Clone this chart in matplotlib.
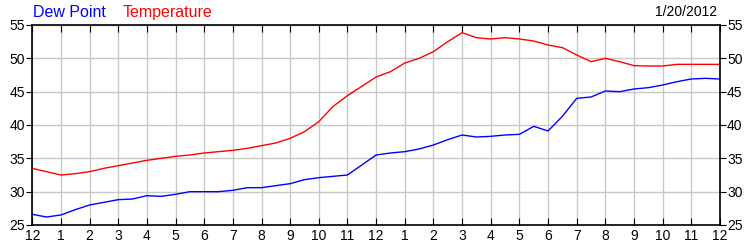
import numpy as np
import matplotlib.pyplot as plt

# sati od ponoci, korak pola sata
hours = np.arange(0, 24.5, 0.5)

temperature = [33.5, 33.0, 32.5, 32.7, 33.0, 33.5, 33.9, 34.3, 34.7, 35.0,
               35.3, 35.5, 35.8, 36.0, 36.2, 36.5, 36.9, 37.3, 38.0, 39.0,
               40.5, 42.8, 44.4, 45.8, 47.2, 48.0, 49.3, 50.0, 51.0, 52.5,
               53.85, 53.1, 52.9, 53.1, 52.9, 52.6, 52.0, 51.6, 50.5, 49.5,
               50.0, 49.5, 48.9, 48.85, 48.85, 49.1, 49.1, 49.1, 49.1]

dew_point = [26.6, 26.2, 26.5, 27.3, 28.0, 28.4, 28.8, 28.9, 29.4, 29.3,
             29.6, 30.0, 30.0, 30.0, 30.2, 30.6, 30.6, 30.9, 31.2, 31.8,
             32.1, 32.3, 32.5, 34.0, 35.5, 35.8, 36.0, 36.4, 37.0, 37.8,
             38.5, 38.2, 38.3, 38.5, 38.6, 39.8, 39.1, 41.3, 44.0, 44.2,
             45.1, 45.0, 45.4, 45.6, 46.0, 46.5, 46.9, 47.0, 46.9]

x_labels = ['12', '1', '2', '3', '4', '5', '6', '7', '8', '9', '10', '11',
            '12', '1', '2', '3', '4', '5', '6', '7', '8', '9', '10', '11', '12']
y_ticks = [25, 30, 35, 40, 45, 50, 55]

plt.rcParams['font.family'] = ['Liberation Sans', 'DejaVu Sans']

fig = plt.figure(figsize=(7.5, 2.5), dpi=100)
ax = fig.add_axes([0.043, 0.1, 0.917, 0.8])

ax.plot(hours, dew_point, color='#0000ff', lw=1)
ax.plot(hours, temperature, color='#ff0000', lw=1)

ax.set_xlim(0, 24)
ax.set_ylim(25, 55)
ax.set_xticks(range(25))
ax.set_xticklabels(x_labels)
ax.set_yticks(y_ticks)
ax.grid(True, color='#c8c8c8', lw=1)
ax.set_axisbelow(True)

ax.tick_params(axis='x', direction='in', top=True, length=5, labelsize=10, pad=3)
ax.tick_params(axis='y', direction='out', right=True, labelright=True,
               length=4, labelsize=10, pad=1)
for s in ax.spines.values():
    s.set_linewidth(1.2)

fig.text(0.044, 0.95, 'Dew Point', color='#0000ff', fontsize=11.5, va='center')
fig.text(0.163, 0.95, 'Temperature', color='#ff0000', fontsize=11.5, va='center')
fig.text(0.956, 0.95, '1/20/2012', color='black', fontsize=10, va='center', ha='right')

plt.savefig('out.png', dpi=100)
